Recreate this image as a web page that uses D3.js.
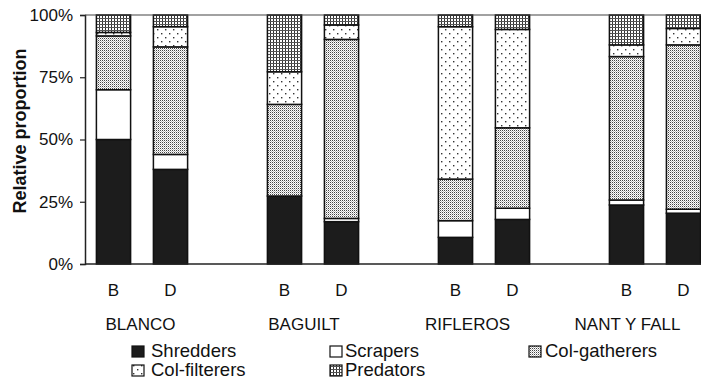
<!DOCTYPE html>
<html>
<head>
<meta charset="utf-8">
<script src="https://cdn.jsdelivr.net/npm/d3@7"></script>
<style>
  html, body { margin: 0; padding: 0; background: #fff; }
  svg { display: block; font-family: "Liberation Sans", Arial, sans-serif; }
</style>
</head>
<body>
<svg id="chart" width="701" height="381"></svg>
<script>
// ---- data ----
const sites = ["BLANCO", "BAGUILT", "RIFLEROS", "NANT Y FALL"];
const treatments = ["B", "D"];
const groups = ["Shredders", "Scrapers", "Col-gatherers", "Col-filterers", "Predators"];
const shredders    = [50.0, 38.0, 27.3, 17.0, 10.7, 17.9, 23.7, 20.4];
const scrapers     = [20.0,  6.0,  0.0,  1.3,  6.7,  4.5,  2.0,  1.6];
const colGatherers = [21.6, 43.2, 36.8, 71.9, 16.7, 32.3, 57.6, 66.0];
const colFilterers = [ 1.4,  8.1, 13.1,  5.8, 61.2, 39.5,  4.7,  6.6];
const predators    = [ 7.0,  4.7, 22.8,  4.0,  4.7,  5.8, 12.0,  5.4];
const yTicks = [0, 25, 50, 75, 100];
const yTickLabels = ["0%", "25%", "50%", "75%", "100%"];

(function () {
// ---- build table ----
const series = [shredders, scrapers, colGatherers, colFilterers, predators];
const rows = [];
sites.forEach((s, gi) => {
  treatments.forEach((t, ti) => {
    const i = gi * 2 + ti;
    const r = { site: s, treat: t, slot: gi * 3 + ti };
    groups.forEach((g, k) => r[g] = series[k][i]);
    rows.push(r);
  });
});

const svg = d3.select("#chart");
const mLeft = 85, mRight = 712, mTop = 15, mBottom = 264;

// patterns
const defs = svg.append("defs");
function pat(id, w, h, build) {
  const p = defs.append("pattern").attr("id", id).attr("patternUnits", "userSpaceOnUse")
    .attr("width", w).attr("height", h);
  p.append("rect").attr("width", w).attr("height", h).attr("fill", "#fff");
  build(p);
}
pat("pGath", 2, 2, p => {
  p.append("rect").attr("x", 0).attr("y", 0).attr("width", 1).attr("height", 1).attr("fill", "#444");
  p.append("rect").attr("x", 1).attr("y", 1).attr("width", 1).attr("height", 1).attr("fill", "#bbb");
});
pat("pFilt", 8, 8, p => {
  p.append("rect").attr("x", 1).attr("y", 1).attr("width", 1.4).attr("height", 1.4).attr("fill", "#333");
  p.append("rect").attr("x", 5).attr("y", 5).attr("width", 1.4).attr("height", 1.4).attr("fill", "#333");
});
pat("pPred", 3, 3, p => {
  p.append("rect").attr("x", 0).attr("y", 0).attr("width", 1).attr("height", 3).attr("fill", "#333");
  p.append("rect").attr("x", 0).attr("y", 0).attr("width", 3).attr("height", 1).attr("fill", "#555");
});
const fills = {
  "Shredders": "#1c1c1c",
  "Scrapers": "#ffffff",
  "Col-gatherers": "url(#pGath)",
  "Col-filterers": "url(#pFilt)",
  "Predators": "url(#pPred)"
};

const x = d3.scaleBand().domain(d3.range(11)).range([mLeft, mRight]).paddingInner(0.4).paddingOuter(0.2);
const y = d3.scaleLinear().domain([0, 100]).range([mBottom, mTop]);

const stack = d3.stack().keys(groups)(rows);

// bars
const layer = svg.append("g");
stack.forEach(s => {
  layer.selectAll(null).data(s).enter().append("rect")
    .attr("x", d => x(d.data.slot))
    .attr("width", x.bandwidth())
    .attr("y", d => y(d[1]))
    .attr("height", d => y(d[0]) - y(d[1]))
    .attr("fill", fills[s.key])
    .attr("stroke", "#111")
    .attr("stroke-width", 1.5);
});

// axes
const yAxis = d3.axisLeft(y).tickValues(yTicks).tickFormat((d, i) => yTickLabels[i]).tickSize(5).tickPadding(7);
const gy = svg.append("g").attr("transform", `translate(${mLeft},0)`).call(yAxis);
gy.select(".domain").attr("stroke", "#222").attr("stroke-width", 1.5);
gy.selectAll(".tick line").attr("stroke", "#222").attr("stroke-width", 1.2);
gy.selectAll(".tick text").attr("font-size", 17).attr("fill", "#111")
  .attr("font-family", "Liberation Sans, Arial, sans-serif");

svg.append("line").attr("x1", mLeft).attr("x2", mRight).attr("y1", mBottom).attr("y2", mBottom)
  .attr("stroke", "#222").attr("stroke-width", 1.5);
svg.append("line").attr("x1", mLeft).attr("x2", mRight).attr("y1", mTop).attr("y2", mTop)
  .attr("stroke", "#444").attr("stroke-width", 1.2);

// y title
svg.append("text")
  .attr("transform", "translate(26,131) rotate(-90)")
  .attr("text-anchor", "middle")
  .attr("font-size", 18).attr("font-weight", "bold").attr("fill", "#111")
  .text("Relative proportion");

// B / D labels
svg.append("g").selectAll("text").data(rows).enter().append("text")
  .attr("x", d => x(d.slot) + x.bandwidth() / 2)
  .attr("y", 296)
  .attr("text-anchor", "middle")
  .attr("font-size", 17).attr("fill", "#111")
  .text(d => d.treat);

// site labels (offset from group centre as drawn in the original)
const siteLabelShift = [-1.5, -9, -16.5, -27.5];
svg.append("g").selectAll("text").data(sites).enter().append("text")
  .attr("x", (d, i) => (x(i * 3) + x(i * 3 + 1) + x.bandwidth()) / 2 + siteLabelShift[i])
  .attr("y", 330)
  .attr("text-anchor", "middle")
  .attr("font-size", 17).attr("fill", "#111")
  .text(d => d);

// legend
const legendPos = [
  { sx: 132, tx: 151, row: 0 },
  { sx: 330, tx: 345, row: 0 },
  { sx: 529, tx: 545, row: 0 },
  { sx: 132, tx: 151, row: 1 },
  { sx: 330, tx: 345, row: 1 }
];
const lg = svg.append("g");
groups.forEach((g, i) => {
  const p = legendPos[i];
  const by = 357 + p.row * 19;
  lg.append("rect").attr("x", p.sx).attr("y", by - 11).attr("width", 12).attr("height", 11)
    .attr("fill", fills[g]).attr("stroke", "#111").attr("stroke-width", 1.2);
  lg.append("text").attr("x", p.tx).attr("y", by).attr("font-size", 18.5).attr("fill", "#111").text(g);
});
})();
</script>
</body>
</html>
